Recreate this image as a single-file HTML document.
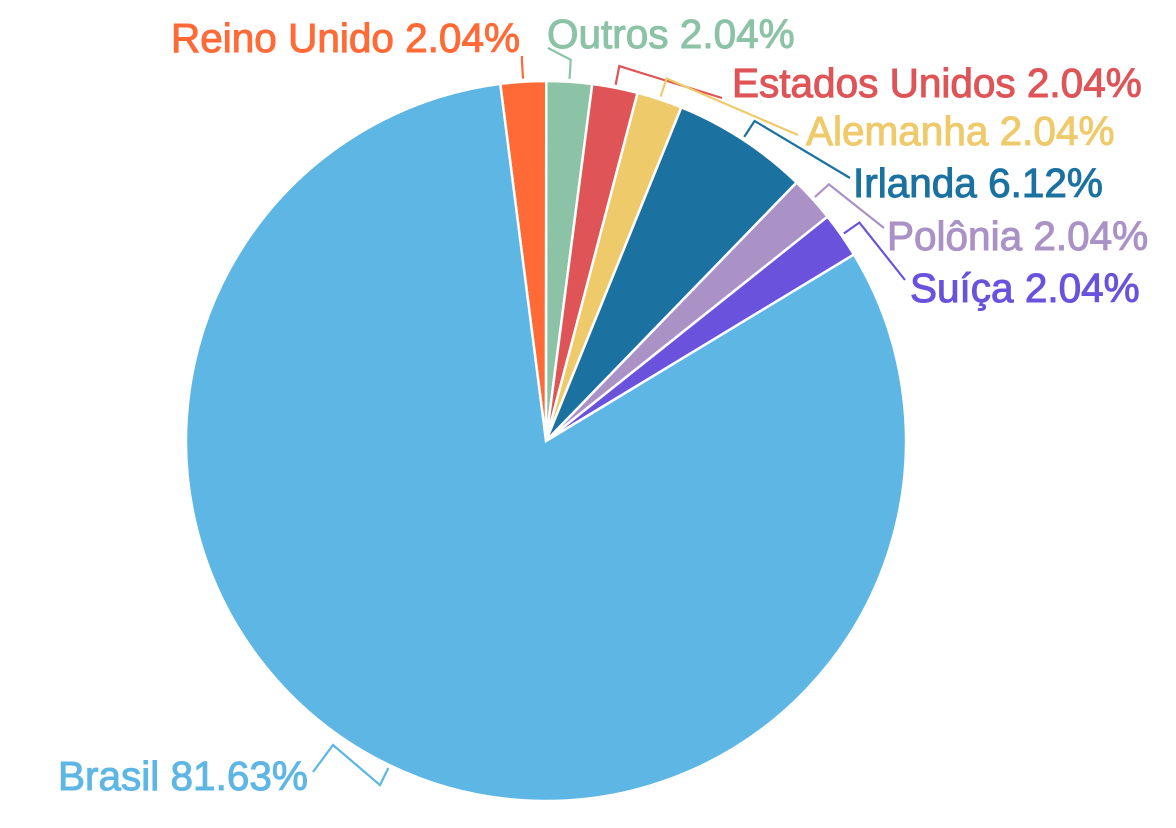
<!DOCTYPE html>
<html><head><meta charset="utf-8">
<style>
html,body{margin:0;padding:0;background:#fff;}
svg{display:block;}
text{font-family:"Liberation Sans",sans-serif;font-size:40.5px;}
</style></head>
<body>
<svg id="chart" width="1176" height="828" viewBox="0 0 1176 828" xmlns="http://www.w3.org/2000/svg"></svg>
<script>
const categories = ["Reino Unido","Outros","Estados Unidos","Alemanha","Irlanda","Polônia","Suíça","Brasil"];
const values = [2.04,2.04,2.04,2.04,6.12,2.04,2.04,81.63];
const labels = ["Reino Unido 2.04%","Outros 2.04%","Estados Unidos 2.04%","Alemanha 2.04%","Irlanda 6.12%","Polônia 2.04%","Suíça 2.04%","Brasil 81.63%"];
const colors = ["#ff6a37","#8cc3a6","#de5457","#efca6b","#1b72a1","#ab92c6","#6b52dc","#5eb6e4"];
const labelPos = [[520,52,"end"],[547,48,"start"],[732,97,"start"],[806,145,"start"],[853,197,"start"],[887,250,"start"],[910,302,"start"],[58,790,"start"]];
const lineEnds = [[[522,56]],[[548,48]],[[722,98]],[[798,135]],[[850,178]],[[884,228]],[[905,280]],[[333,745],[313,772]]];

const svg = document.getElementById('chart');
const NS = "http://www.w3.org/2000/svg";
const cx = 546, cy = 441, R = 360, startDeg = -7.3;
const total = values.reduce((a,b)=>a+b,0);
function pt(deg, r){ const a = deg*Math.PI/180; return [cx + r*Math.sin(a), cy - r*Math.cos(a)]; }

let cur = startDeg;
values.forEach((v,i)=>{
  const sweep = v/total*360;
  const a0 = cur, a1 = cur + sweep;
  const p0 = pt(a0,R), p1 = pt(a1,R);
  const large = sweep > 180 ? 1 : 0;
  const path = document.createElementNS(NS,'path');
  path.setAttribute('d',`M${cx},${cy} L${p0[0]},${p0[1]} A${R},${R} 0 ${large} 1 ${p1[0]},${p1[1]} Z`);
  path.setAttribute('fill',colors[i]);
  path.setAttribute('stroke','#fff');
  path.setAttribute('stroke-width','2.5');
  
  
  svg.appendChild(path);

  const mid = (a0+a1)/2;
  const q1 = pt(mid, R+3), q2 = pt(mid, R+22);
  let pts = `${q1[0]},${q1[1]} ${q2[0]},${q2[1]}`;
  lineEnds[i].forEach(p=>{ pts += ` ${p[0]},${p[1]}`; });
  const line = document.createElementNS(NS,'polyline');
  line.setAttribute('points',pts);
  line.setAttribute('fill','none');
  line.setAttribute('stroke',colors[i]);
  line.setAttribute('stroke-width','2.2');
  
  
  svg.appendChild(line);

  const lp = labelPos[i];
  const t = document.createElementNS(NS,'text');
  t.setAttribute('x',lp[0]);
  t.setAttribute('y',lp[1]);
  t.setAttribute('text-anchor',lp[2]);
  t.setAttribute('fill',colors[i]);
  t.setAttribute('stroke',colors[i]);
  t.setAttribute('stroke-width','1');
  t.textContent = labels[i];
  
  
  svg.appendChild(t);
  cur = a1;
});
</script>
</body></html>
